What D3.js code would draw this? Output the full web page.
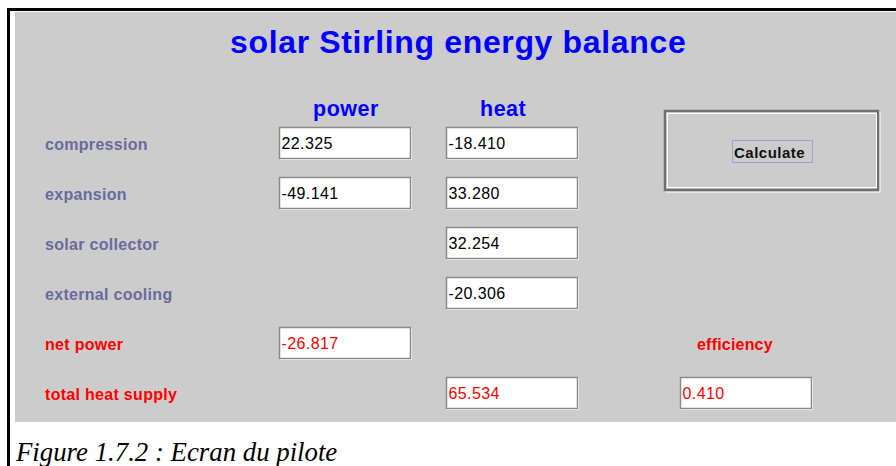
<!DOCTYPE html>
<html>
<head>
<meta charset="utf-8">
<script src="https://cdn.jsdelivr.net/npm/d3@7"></script>
<style>
  body { margin: 0; background: #fff; }
  svg { display: block; }
</style>
</head>
<body>
<div id="chart"></div>
<script>
// data
var title = "solar Stirling energy balance";
var caption = "Figure 1.7.2 : Ecran du pilote";
var rowLabels = ["compression", "expansion", "solar collector", "external cooling", "net power", "total heat supply"];
var resultRows = ["net power", "total heat supply"];
var columns = ["power", "heat"];
var powerValues = [22.325, -49.141, null, null, -26.817, null];
var heatValues = [-18.410, 33.280, 32.254, -20.306, null, 65.534];
var efficiency = 0.410;

var width = 896, height = 466;
var sans = "Liberation Sans, Arial, sans-serif";

var svg = d3.select("#chart").append("svg")
  .attr("width", width)
  .attr("height", height);

// frame and panel
svg.append("rect").attr("x", 7).attr("y", 8).attr("width", width - 7).attr("height", 3).attr("fill", "#000");
svg.append("rect").attr("x", 7).attr("y", 8).attr("width", 3).attr("height", height - 8).attr("fill", "#000");
svg.append("rect").attr("x", 15).attr("y", 12).attr("width", width - 15).attr("height", 410).attr("fill", "#cccccc");

svg.append("text")
  .attr("x", 230).attr("y", 53)
  .attr("font-family", sans)
  .attr("font-weight", "bold")
  .attr("font-size", "32px")
  .attr("letter-spacing", "0.65px")
  .attr("fill", "#0000ff")
  .text(title);

// scales
var y = d3.scaleBand().domain(rowLabels).range([127, 427]);
var x = d3.scaleOrdinal().domain(["power", "heat", "efficiency"]).range([279, 446, 680]);
var headerX = d3.scaleOrdinal().domain(columns).range([313, 480]);
var boxW = 132, boxH = 32;

svg.selectAll(".header")
  .data(columns)
  .enter().append("text")
  .attr("class", "header")
  .attr("x", function(d) { return headerX(d); })
  .attr("y", 116)
  .attr("font-family", sans)
  .attr("font-weight", "bold")
  .attr("font-size", "21.5px")
  .attr("letter-spacing", "0.5px")
  .attr("fill", "#0000ff")
  .text(function(d) { return d; });

svg.selectAll(".rowlabel")
  .data(rowLabels)
  .enter().append("text")
  .attr("class", "rowlabel")
  .attr("x", 45)
  .attr("y", function(d) { return y(d) + 22.5; })
  .attr("font-family", sans)
  .attr("font-weight", "bold")
  .attr("font-size", "16px")
  .attr("letter-spacing", "0.3px")
  .attr("fill", function(d) { return resultRows.indexOf(d) >= 0 ? "#ff0000" : "#6a6a9e"; })
  .text(function(d) { return d; });

// text fields
var cells = [];
rowLabels.forEach(function(r, i) {
  if (powerValues[i] !== null) cells.push({ row: r, col: "power", v: powerValues[i] });
  if (heatValues[i] !== null) cells.push({ row: r, col: "heat", v: heatValues[i] });
});
cells.push({ row: "total heat supply", col: "efficiency", v: efficiency });

var field = svg.selectAll(".field")
  .data(cells)
  .enter().append("g")
  .attr("class", "field")
  .attr("transform", function(d) { return "translate(" + x(d.col) + "," + y(d.row) + ")"; });

field.append("path")
  .attr("d", "M0.5," + (boxH + 0.5) + "H" + (boxW + 0.5) + "V0.5")
  .attr("fill", "none").attr("stroke", "#fff");
field.append("rect")
  .attr("x", 0.5).attr("y", 0.5)
  .attr("width", boxW - 1).attr("height", boxH - 1)
  .attr("fill", "#fff")
  .attr("stroke", "#8a8a8a")
  .attr("stroke-width", 1.5);
field.append("text")
  .attr("x", 2.5)
  .attr("y", 21.5)
  .attr("font-family", sans)
  .attr("font-size", "16px")
  .attr("letter-spacing", "0.4px")
  .attr("fill", function(d) { return resultRows.indexOf(d.row) >= 0 ? "#ff0000" : "#000"; })
  .text(function(d) { return d.v.toFixed(3); });

svg.append("text")
  .attr("x", 697).attr("y", 350)
  .attr("font-family", sans)
  .attr("font-weight", "bold")
  .attr("font-size", "16px")
  .attr("letter-spacing", "0.2px")
  .attr("fill", "#ff0000")
  .text("efficiency");

// calculate button panel
var btn = svg.append("g");
btn.append("rect").attr("x", 666).attr("y", 112).attr("width", 214).attr("height", 80)
  .attr("fill", "none").attr("stroke", "#fff").attr("stroke-width", 1);
btn.append("rect").attr("x", 665).attr("y", 111).attr("width", 213).attr("height", 79)
  .attr("fill", "none").attr("stroke", "#707070").attr("stroke-width", 2.5);
btn.append("rect").attr("x", 667.5).attr("y", 113.5).attr("width", 209).attr("height", 74)
  .attr("fill", "none").attr("stroke", "#fff").attr("stroke-width", 1);
btn.append("rect").attr("x", 732.5).attr("y", 140.5).attr("width", 80).attr("height", 22)
  .attr("fill", "none").attr("stroke", "#a0a0d8").attr("stroke-width", 1);
btn.append("text")
  .attr("x", 734).attr("y", 158)
  .attr("font-family", sans)
  .attr("font-weight", "bold")
  .attr("font-size", "15px")
  .attr("letter-spacing", "0.5px")
  .attr("fill", "#111")
  .text("Calculate");

svg.append("text")
  .attr("x", 16).attr("y", 461)
  .attr("font-family", "Liberation Serif, Times New Roman, serif")
  .attr("font-style", "italic")
  .attr("font-size", "26.8px")
  .attr("fill", "#000")
  .text(caption);
</script>
</body>
</html>
